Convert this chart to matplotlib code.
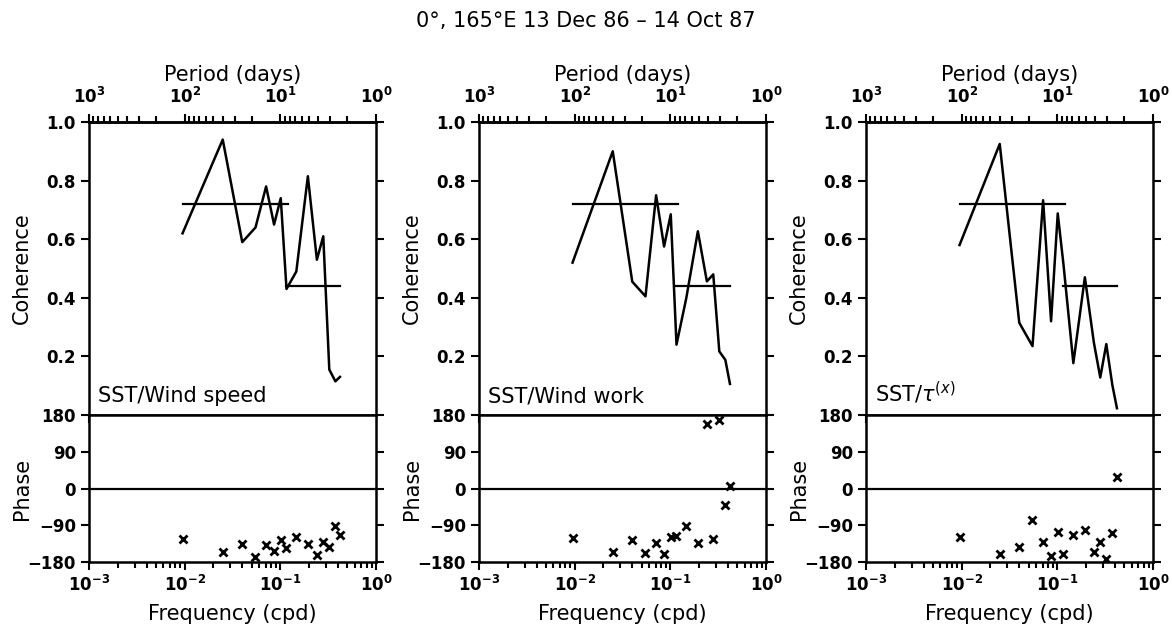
import matplotlib
matplotlib.use('Agg')
import matplotlib.pyplot as plt
import numpy as np

# frequencies (cpd) of the band-averaged estimates
freq = [0.0095, 0.025, 0.040, 0.055, 0.071, 0.086, 0.101, 0.116, 0.147,
        0.194, 0.241, 0.281, 0.325, 0.376, 0.420]

coh_speed = [0.62, 0.94, 0.59, 0.64, 0.78, 0.65, 0.74, 0.43, 0.49, 0.815,
             0.53, 0.61, 0.155, 0.115, 0.13]
coh_work = [0.52, 0.90, 0.455, 0.405, 0.75, 0.575, 0.685, 0.24, 0.40, 0.627,
            0.456, 0.48, 0.217, 0.188, 0.106]
coh_taux = [0.58, 0.925, 0.315, 0.235, 0.733, 0.32, 0.688, 0.513, 0.177,
            0.47, 0.247, 0.128, 0.242, 0.102, 0.023]

ph_speed = [-123, -155, -135, -168, -139, -153, -125, -145, -119, -135,
            -164, -131, -143, -92, -113]
ph_work = [-120, -156, -125, -158, -133, -161, -119, -116, -92, -133,
           157, -123, 168, -41, 6]
ph_taux = [-119, -161, -143, -78, -131, -165, -106, -161, -115, -101,
           -155, -132, -173, -110, 29]

# significance levels for the two bandwidths
sig_f1 = [0.0095, 0.12]
sig_f2 = [0.116, 0.425]
sig_c1 = [0.72, 0.72]
sig_c2 = [0.44, 0.44]

labels = ['SST/Wind speed', 'SST/Wind work', r'SST/$\tau^{(x)}$']
cohs = [coh_speed, coh_work, coh_taux]
phases = [ph_speed, ph_work, ph_taux]

plt.rcParams['font.family'] = 'DejaVu Sans'
plt.rcParams['mathtext.fontset'] = 'dejavusans'
plt.rcParams['axes.linewidth'] = 1.8

W, H = 1172, 628
fig = plt.figure(figsize=(W / 100, H / 100), dpi=100)
fig.text(586 / W, 1 - 21 / H, '0°, 165°E 13 Dec 86 – 14 Oct 87',
         ha='center', va='center', fontsize=15)

lefts = [89, 479, 866]
pw = 287

def inv(x):
    x = np.asarray(x, dtype=float)
    with np.errstate(divide='ignore'):
        return 1.0 / x

for i in range(3):
    l = lefts[i] / W
    ax1 = fig.add_axes([l, 1 - 415 / H, pw / W, 293 / H])
    ax2 = fig.add_axes([l, 1 - 562 / H, pw / W, 147 / H])

    ax1.plot(freq, cohs[i], color='k', lw=1.8)
    ax1.plot(sig_f1, sig_c1, color='k', lw=1.6)
    ax1.plot(sig_f2, sig_c2, color='k', lw=1.6)
    ax1.set_xscale('log')
    ax1.set_xlim(1e-3, 1)
    ax1.set_ylim(0, 1)
    ax1.set_yticks([0.2, 0.4, 0.6, 0.8, 1.0])
    ax1.set_yticklabels(['0.2', '0.4', '0.6', '0.8', '1.0'])
    ax1.tick_params(axis='both', which='both', direction='out', labelsize=12,
                    right=True, width=1.5)
    ax1.tick_params(axis='x', labelbottom=False)
    ax1.tick_params(which='major', length=6)
    ax1.tick_params(which='minor', length=4)
    for t in ax1.get_yticklabels():
        t.set_fontweight('bold')
    ax1.set_ylabel('Coherence', fontsize=15)
    ax1.yaxis.set_label_coords(-0.2, 0.5)
    ax1.text(0.03, 0.03, labels[i], transform=ax1.transAxes, fontsize=15,
             ha='left', va='bottom')

    top = ax1.secondary_xaxis('top', functions=(inv, inv))
    top.set_xticks([1000, 100, 10, 1])
    top.set_xticklabels([r'$\mathbf{10^3}$', r'$\mathbf{10^2}$',
                         r'$\mathbf{10^1}$', r'$\mathbf{10^0}$'])
    top.tick_params(which='both', direction='out', labelsize=12, width=1.5)
    top.tick_params(which='major', length=6, pad=5)
    top.tick_params(which='minor', length=4)
    top.set_xlabel('Period (days)', fontsize=15, labelpad=4)

    ax2.plot(freq, phases[i], linestyle='none', marker='x', color='k',
             markersize=6, mew=2)
    ax2.axhline(0, color='k', lw=1.6)
    ax2.set_xscale('log')
    ax2.set_xlim(1e-3, 1)
    ax2.set_ylim(-180, 180)
    ax2.set_yticks([-180, -90, 0, 90, 180])
    ax2.set_yticklabels(['−180', '−90', '0', '90', '180'])
    ax2.tick_params(axis='both', which='both', direction='out', labelsize=12,
                    right=True, top=False, width=1.5)
    ax2.tick_params(which='major', length=6)
    ax2.tick_params(which='minor', length=4)
    ax2.set_xticks([1e-3, 1e-2, 1e-1, 1])
    ax2.set_xticklabels([r'$\mathbf{10^{-3}}$', r'$\mathbf{10^{-2}}$',
                         r'$\mathbf{10^{-1}}$', r'$\mathbf{10^{0}}$'])
    for t in ax2.get_yticklabels():
        t.set_fontweight('bold')
    ax2.set_ylabel('Phase', fontsize=15)
    ax2.yaxis.set_label_coords(-0.2, 0.5)
    ax2.set_xlabel('Frequency (cpd)', fontsize=15, labelpad=6)

fig.savefig('out.png', dpi=100)
